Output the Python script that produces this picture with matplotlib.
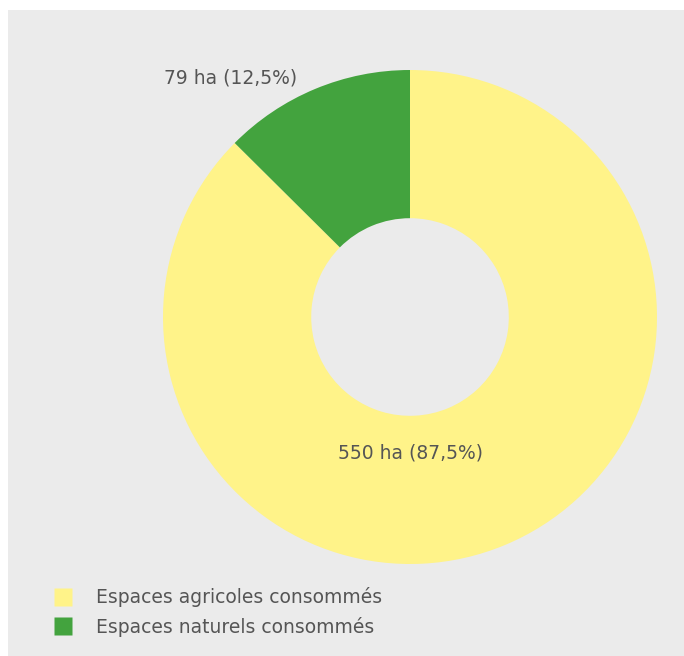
import matplotlib
matplotlib.use("Agg")
import matplotlib.pyplot as plt
from matplotlib.lines import Line2D

categories = ["Espaces agricoles consommés", "Espaces naturels consommés"]
values = [550, 79]
labels = ["550 ha (87,5%)", "79 ha (12,5%)"]
colors = ["#FFF389", "#43A33E"]

W, H = 684, 656
fig = plt.figure(figsize=(W / 100, H / 100), dpi=100)
fig.patch.set_facecolor("white")

bg = fig.add_axes([8 / W, 0, 1 - 8 / W, 1 - 10 / H], zorder=-10)
bg.set_facecolor("#EBEBEB")
bg.set_xticks([])
bg.set_yticks([])
for s in bg.spines.values():
    s.set_visible(False)

cx, cy, R = 410, H - 317, 247
ax = fig.add_axes([(cx - R) / W, (cy - R) / H, 2 * R / W, 2 * R / H], zorder=1)
ax.set_facecolor("none")
wedges, _ = ax.pie(values, colors=colors, startangle=90, counterclock=False,
                   radius=1, wedgeprops=dict(width=0.6, edgecolor="none"))
ax.set_xlim(-1, 1)
ax.set_ylim(-1, 1)
ax.set_aspect("equal")
ax.axis("off")

fs = 13.5
ax.text(0, -136 / R, labels[0], ha="center", va="center", fontsize=fs,
        color="#555555", family="DejaVu Sans")
ax.text(-179 / R, 239 / R, labels[1], ha="center", va="center", fontsize=fs,
        color="#555555", family="DejaVu Sans", clip_on=False)

handles = [Line2D([0], [0], marker="s", linestyle="none", markersize=13.5,
                  markerfacecolor=c, markeredgecolor="none") for c in colors]
fig.legend(handles, categories, loc="upper left",
           bbox_to_anchor=(40.5 / W, 1 - 574 / H), frameon=False,
           fontsize=fs, labelcolor="#555555", handletextpad=1.25,
           labelspacing=0.51, handlelength=1.0, borderpad=0.2)

fig.savefig("out.png", dpi=100)
